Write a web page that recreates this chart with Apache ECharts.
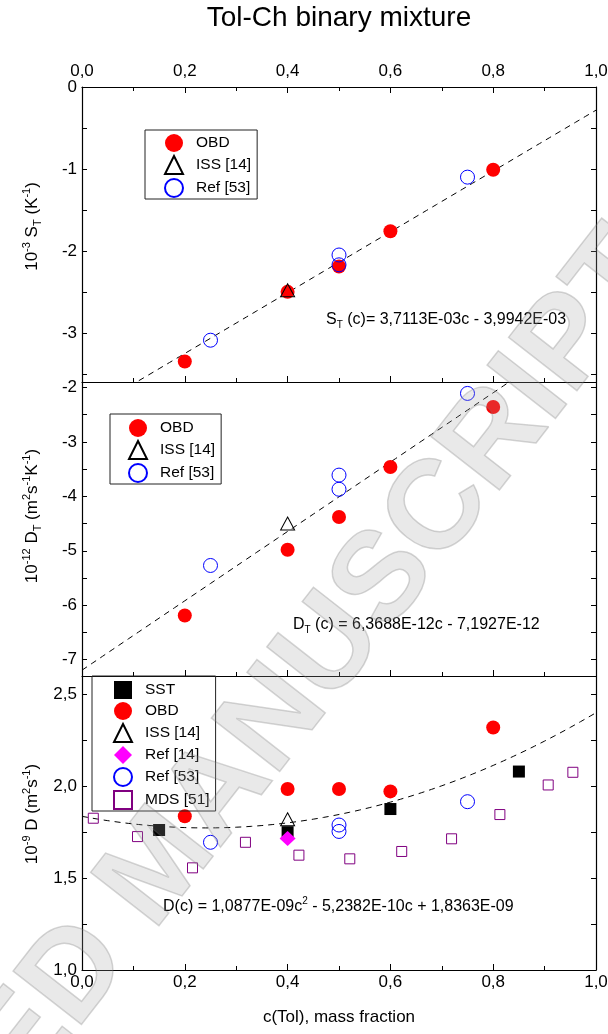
<!DOCTYPE html>
<html>
<head>
<meta charset="utf-8">
<title>Tol-Ch binary mixture</title>
<script src="https://cdn.jsdelivr.net/npm/echarts@6.0.0/dist/echarts.min.js"></script>
<style>
  html, body { margin: 0; padding: 0; background: #fff; }
  #chart { width: 608px; height: 1034px; }
</style>
</head>
<body>
<div id="chart"></div>
<script>
// ---- Soret coefficient S_T (10^-3 K^-1) ----
const stObdX = [0.2, 0.4, 0.5, 0.6, 0.8];
const stObdY = [-3.35, -2.50, -2.19, -1.76, -1.01];
const stIssX = [0.4];
const stIssY = [-2.48];
const stRefX = [0.25, 0.5, 0.5, 0.75];
const stRefY = [-3.09, -2.05, -2.17, -1.10];
const stFit = [3.7113, -3.9942];           // slope, intercept (10^-3)

// ---- Thermodiffusion coefficient D_T (10^-12 m2 s-1 K-1) ----
const dtObdX = [0.2, 0.4, 0.5, 0.6, 0.8];
const dtObdY = [-6.19, -4.98, -4.38, -3.46, -2.36];
const dtIssX = [0.4];
const dtIssY = [-4.50];
const dtRefX = [0.25, 0.5, 0.5, 0.75];
const dtRefY = [-5.27, -3.61, -3.87, -2.11];
const dtFit = [6.3688, -7.1927];           // slope, intercept (10^-12)

// ---- Molecular diffusion coefficient D (10^-9 m2 s-1) ----
const dSstX = [0.15, 0.4, 0.6, 0.85];
const dSstY = [1.762, 1.75, 1.876, 2.080];
const dObdX = [0.2, 0.4, 0.5, 0.6, 0.8];
const dObdY = [1.837, 1.985, 1.985, 1.972, 2.320];
const dIssX = [0.4];
const dIssY = [1.82];
const dRef14X = [0.4];
const dRef14Y = [1.715];
const dRef53X = [0.25, 0.5, 0.5, 0.75];
const dRef53Y = [1.695, 1.789, 1.754, 1.916];
const dMdsX = [0.022, 0.108, 0.215, 0.318, 0.422, 0.521, 0.622, 0.719, 0.813, 0.907, 0.955];
const dMdsY = [1.826, 1.726, 1.556, 1.695, 1.625, 1.605, 1.645, 1.714, 1.846, 2.007, 2.076];
const dFit = [1.0877, -0.52382, 1.8363];   // c^2, c, constant (10^-9)

// ---- Axis ticks ----
const stLabels = [-3, -2, -1, 0];
const stTicks = [-3.5, -3, -2.5, -2, -1.5, -1, -0.5, 0];
const dtLabels = [-7, -6, -5, -4, -3, -2];
const dtTicks = [-7, -6.5, -6, -5.5, -5, -4.5, -4, -3.5, -3, -2.5, -2];
const dLabels = [1.0, 1.5, 2.0, 2.5];
const dTicks = [1.0, 1.25, 1.5, 1.75, 2.0, 2.25, 2.5];

const FONT = '"Liberation Sans", Arial, Helvetica, sans-serif';

const pairs = (xs, ys) => xs.map((x, i) => [x, ys[i]]);
// fitted curves, evaluated from the printed coefficients (highest power first)
const fitCurve = (coef) => {
  const pts = [];
  for (let i = 0; i <= 100; i++) {
    const c = i / 100;
    let v = 0;
    coef.forEach(k => { v = v * c + k; });
    pts.push([c, v]);
  }
  return pts;
};

const makeRich = (size, supSize, lh) => ({
  n:   { fontSize: size, fontFamily: FONT, color: '#000', lineHeight: lh },
  sup: { fontSize: supSize, fontFamily: FONT, color: '#000', lineHeight: supSize, verticalAlign: 'top' },
  sub: { fontSize: supSize, fontFamily: FONT, color: '#000', lineHeight: supSize, verticalAlign: 'bottom' }
});
const nameRich = makeRich(17, 11, 22);
const eqRich = makeRich(16, 10, 21);

const axisLine = { show: true, onZero: false, lineStyle: { color: '#000', width: 1.2 } };
const commaFmt = v => v.toFixed(1).replace('.', ',');

function xAxisDef(gridIndex, position, showLabel, extra) {
  return Object.assign({
    type: 'value', gridIndex, position, min: 0, max: 1, interval: 0.2,
    axisLine,
    axisTick: { show: true, inside: true, length: 6, lineStyle: { color: '#000', width: 1 } },
    minorTick: { show: true, splitNumber: 2, length: 4, lineStyle: { color: '#000', width: 1 } },
    splitLine: { show: false },
    axisLabel: {
      show: showLabel, formatter: commaFmt, color: '#000', fontSize: 17, fontFamily: FONT,
      margin: position === 'top' ? 7 : 4
    }
  }, extra || {});
}

function yPair(gridIndex, min, max, labels, ticks, fmt, name, namePad) {
  const tick = { show: true, inside: true, length: 5, customValues: ticks, lineStyle: { color: '#000', width: 1 } };
  return [
    {
      type: 'value', gridIndex, position: 'left', min, max,
      axisLine, axisTick: tick, splitLine: { show: false },
      axisLabel: { customValues: labels, formatter: fmt, color: '#000', fontSize: 17, fontFamily: FONT, margin: 5 },
      name, nameLocation: 'middle', nameRotate: 90, nameGap: 39,
      nameTextStyle: { rich: nameRich, padding: [0, 0, 0, namePad] }
    },
    {
      type: 'value', gridIndex, position: 'right', min, max,
      axisLine, axisTick: tick, splitLine: { show: false },
      axisLabel: { show: false }
    }
  ];
}

const intFmt = v => String(Math.round(v));

const yAxes = [].concat(
  yPair(0, -3.6, 0, stLabels, stTicks, intFmt,
    '{n|10}{sup|-3}{n| S}{sub|T}{n| (K}{sup|-1}{n|)}', 16),
  yPair(1, -7.3, -1.9, dtLabels, dtTicks, intFmt,
    '{n|10}{sup|-12}{n| D}{sub|T}{n| (m}{sup|2}{n|s}{sup|-1}{n|K}{sup|-1}{n|)}', 26),
  yPair(2, 1.0, 2.6, dLabels, dTicks, commaFmt,
    '{n|10}{sup|-9}{n| D (m}{sup|2}{n|s}{sup|-1}{n|)}', 18)
);

const xAxes = [
  xAxisDef(0, 'bottom', false),
  xAxisDef(0, 'top', true),
  xAxisDef(1, 'bottom', false),
  xAxisDef(2, 'bottom', true, {
    name: 'c(Tol), mass fraction', nameLocation: 'middle', nameGap: 39,
    nameTextStyle: { color: '#000', fontSize: 17, fontFamily: FONT }
  })
];

const fitLine = (xi, yi, data) => ({
  type: 'line', xAxisIndex: xi, yAxisIndex: yi, data, showSymbol: false, symbol: 'none',
  clip: true, silent: true, z: 1,
  lineStyle: { color: '#000', width: 1, type: [6, 5] }
});

const styles = {
  'SST':      { symbol: 'rect', symbolSize: 12, itemStyle: { color: '#000', opacity: 1 } },
  'OBD':      { symbol: 'circle', symbolSize: 14, itemStyle: { color: '#ff0000', opacity: 1 } },
  'ISS [14]': { symbol: 'triangle', symbolSize: [14, 13], itemStyle: { color: 'rgba(0,0,0,0)', borderColor: '#000', borderWidth: 1, opacity: 1 } },
  'Ref [14]': { symbol: 'diamond', symbolSize: [16, 15], itemStyle: { color: '#ff00ff', opacity: 1 } },
  'Ref [53]': { symbol: 'circle', symbolSize: 14, itemStyle: { color: 'rgba(0,0,0,0)', borderColor: '#0000ff', borderWidth: 1, opacity: 1 } },
  'MDS [51]': { symbol: 'rect', symbolSize: 10, itemStyle: { color: 'rgba(0,0,0,0)', borderColor: '#800080', borderWidth: 1, opacity: 1 } }
};

const scatter = (name, xi, yi, data) => Object.assign({
  type: 'scatter', name, xAxisIndex: xi, yAxisIndex: yi, data, z: 3,
  emphasis: { disabled: true }
}, styles[name]);

// x axis indices: 0 bottom/grid0, 1 top/grid0, 2 bottom/grid1, 3 bottom/grid2
// y axis indices: 0,1 grid0; 2,3 grid1; 4,5 grid2
const series = [
  fitLine(0, 0, fitCurve(stFit)),
  scatter('OBD', 0, 0, pairs(stObdX, stObdY)),
  scatter('ISS [14]', 0, 0, pairs(stIssX, stIssY)),
  scatter('Ref [53]', 0, 0, pairs(stRefX, stRefY)),

  fitLine(2, 2, fitCurve(dtFit)),
  scatter('OBD', 2, 2, pairs(dtObdX, dtObdY)),
  scatter('ISS [14]', 2, 2, pairs(dtIssX, dtIssY)),
  scatter('Ref [53]', 2, 2, pairs(dtRefX, dtRefY)),

  fitLine(3, 4, fitCurve(dFit)),
  scatter('SST', 3, 4, pairs(dSstX, dSstY)),
  scatter('OBD', 3, 4, pairs(dObdX, dObdY)),
  scatter('ISS [14]', 3, 4, pairs(dIssX, dIssY)),
  scatter('Ref [14]', 3, 4, pairs(dRef14X, dRef14Y)),
  scatter('Ref [53]', 3, 4, pairs(dRef53X, dRef53Y)),
  scatter('MDS [51]', 3, 4, pairs(dMdsX, dMdsY))
];

const legendBox = (names, left, top, padL, padT) => ({
  data: names, orient: 'vertical', left, top, selectedMode: false,
  itemWidth: 18, itemHeight: 18, itemGap: 3,
  borderColor: '#222', borderWidth: 1, padding: [padT, 6, 1, padL],
  textStyle: { color: '#000', fontSize: 15.5, fontFamily: FONT, padding: [0, 0, 0, 8] }
});

const eqText = (x, y, text) => ({
  type: 'text', x, y, z: 50,
  style: { text, rich: eqRich, textVerticalAlign: 'middle', textAlign: 'left' }
});

// diagonal "ACCEPTED MANUSCRIPT" overprint
const mark = (text, x, y, align) => ({
  type: 'text', x, y, rotation: 52 * Math.PI / 180, z: 100, silent: true,
  style: {
    text, textAlign: align, textVerticalAlign: 'middle',
    font: 'bold 126px ' + FONT,
    fill: 'rgba(165,165,165,0.24)',
    stroke: 'rgba(105,105,105,0.28)', lineWidth: 1.5
  }
});

const option = {
  backgroundColor: '#fff',
  animation: false,
  title: {
    text: 'Tol-Ch binary mixture', left: 334, top: -1, textAlign: 'center',
    textStyle: { color: '#000', fontSize: 28, fontWeight: 'normal', fontFamily: FONT }
  },
  grid: [
    { left: 82, right: 12, top: 87, height: 295, outerBoundsMode: 'none' },
    { left: 82, right: 12, top: 382, height: 294, outerBoundsMode: 'none' },
    { left: 82, right: 12, top: 676, height: 294, outerBoundsMode: 'none' }
  ],
  xAxis: xAxes,
  yAxis: yAxes,
  legend: [
    legendBox(['OBD', 'ISS [14]', 'Ref [53]'], 145, 130, 19, 4),
    legendBox(['OBD', 'ISS [14]', 'Ref [53]'], 110, 414, 18, 5),
    legendBox(['SST', 'OBD', 'ISS [14]', 'Ref [14]', 'Ref [53]', 'MDS [51]'], 92, 676, 21, 5)
  ],
  series,
  graphic: [
    eqText(326, 320, '{n|S}{sub|T}{n| (c)= 3,7113E-03c - 3,9942E-03}'),
    eqText(293, 625, '{n|D}{sub|T}{n| (c) = 6,3688E-12c - 7,1927E-12}'),
    eqText(163, 907, '{n|D(c) = 1,0877E-09c}{sup|2}{n| - 5,2382E-10c + 1,8363E-09}'),
    mark('MANUSCRIPT', 385, 580, 'center'),
    mark('ACCEPTED', 105, 938, 'right')
  ]
};

const chart = echarts.init(document.getElementById('chart'), null, { renderer: 'canvas' });
chart.setOption(option);
</script>
</body>
</html>
